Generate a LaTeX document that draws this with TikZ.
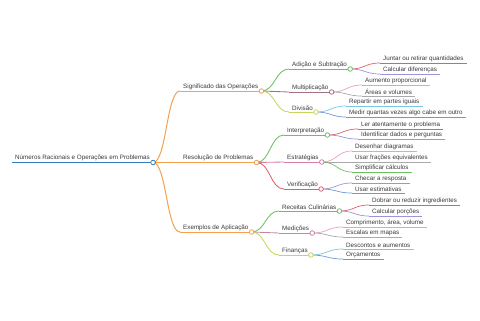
\documentclass[tikz,border=0pt]{standalone}
\usepackage{fontspec}
\setmainfont{Liberation Sans}
\usetikzlibrary{calc}
\definecolor{txt}{HTML}{3A3A3A}
\definecolor{cblue}{HTML}{2F7DBE}
\definecolor{corange}{HTML}{F4A04E}
\definecolor{cgreen}{HTML}{6CBF62}
\definecolor{cmauve}{HTML}{A4727F}
\definecolor{cyg}{HTML}{C9D45C}
\definecolor{cred}{HTML}{E0606A}
\definecolor{cpurple}{HTML}{A092D8}
\definecolor{cpink}{HTML}{EC9CCB}
\definecolor{cgray}{HTML}{AAAAAA}
\definecolor{ccyan}{HTML}{78C8E0}
\definecolor{cbl}{HTML}{6C9AD8}
\definecolor{cmag}{HTML}{D97AA8}
\definecolor{cmed}{HTML}{C486A4}
\tikzset{
  lbl/.style={anchor=south west, inner xsep=3pt, inner ysep=1.3pt, font=\fontsize{6.3}{7.3}\selectfont, text=txt},
  dot/.style={circle, draw, fill=white, inner sep=0pt, minimum size=4.6pt, line width=0.8pt},
  link/.style={to path={let \p1=(\tikztostart), \p2=(\tikztotarget) in
     .. controls ({(\x1+\x2)/2},\y1) and ({(\x1+\x2)/2},\y2) .. (\tikztotarget) \tikztonodes}},
  w0/.style={line width=1.1pt},
  w1/.style={line width=1.0pt},
  w2/.style={line width=0.85pt},
  w3/.style={line width=0.7pt},
}
\newcommand\mmnode[6]{% name, x, y, color, width, text
  \node[lbl] (#1) at (#2,#3) {#6};
  \draw[#4,#5] (#1.south west) -- (#1.south east);
  \coordinate (#1e) at (#1.south east);}
\newcommand\mmlink[4]{\draw[#3,#4] (#1e) to[link] (#2.south west);}
\newcommand\mmdot[2]{\node[dot,draw=#2] (#1d) at (#1e) {};}
\begin{document}
\begin{tikzpicture}[x=1bp,y=-1bp]
\useasboundingbox (0,0) rectangle (480,320);
% root
\mmnode{r}{12}{162.5}{cblue}{w0}{Números Racionais e Operações em Problemas}
% level 1
\mmnode{a}{180}{91}{corange}{w1}{Significado das Operações}
\mmnode{b}{180}{162.5}{corange}{w1}{Resolução de Problemas}
\mmnode{c}{180}{232}{corange}{w1}{Exemplos de Aplicação}
% level 2
\mmnode{aa}{289}{69}{cgreen}{w2}{Adição e Subtração}
\mmnode{ab}{289}{92}{cmauve}{w2}{Multiplicação}
\mmnode{ac}{289}{112}{cyg}{w2}{Divisão}
\mmnode{ba}{284}{135}{cgreen}{w2}{Interpretação}
\mmnode{bb}{284}{162}{cmag}{w2}{Estratégias}
\mmnode{bc}{284}{189}{cred}{w2}{Verificação}
\mmnode{ca}{279}{211}{cgreen}{w2}{Receitas Culinárias}
\mmnode{cb}{279}{233}{cmed}{w2}{Medições}
\mmnode{cc}{279}{255}{cyg}{w2}{Finanças}
% level 3
\mmnode{aaa}{380}{63}{cred}{w3}{Juntar ou retirar quantidades}
\mmnode{aab}{380}{74}{cpurple}{w3}{Calcular diferenças}
\mmnode{aba}{362}{85}{cpink}{w3}{Aumento proporcional}
\mmnode{abb}{362}{96}{cgray}{w3}{Áreas e volumes}
\mmnode{aca}{346}{106}{ccyan}{w3}{Repartir em partes iguais}
\mmnode{acb}{346}{117}{cbl}{w3}{Medir quantas vezes algo cabe em outro}
\mmnode{baa}{358}{129}{cred}{w3}{Ler atentamente o problema}
\mmnode{bab}{358}{139}{cpurple}{w3}{Identificar dados e perguntas}
\mmnode{bba}{352}{151}{cpink}{w3}{Desenhar diagramas}
\mmnode{bbb}{352}{162}{cgray}{w3}{Usar frações equivalentes}
\mmnode{bbc}{352}{172}{cgreen}{w3}{Simplificar cálculos}
\mmnode{bca}{352}{183}{cpurple}{w3}{Checar a resposta}
\mmnode{bcb}{352}{193}{cbl}{w3}{Usar estimativas}
\mmnode{caa}{369}{205}{cred}{w3}{Dobrar ou reduzir ingredientes}
\mmnode{cab}{369}{216}{cpurple}{w3}{Calcular porções}
\mmnode{cba}{343}{227}{cpink}{w3}{Comprimento, área, volume}
\mmnode{cbb}{343}{237}{cgray}{w3}{Escalas em mapas}
\mmnode{cca}{343}{249}{ccyan}{w3}{Descontos e aumentos}
\mmnode{ccb}{343}{259}{cbl}{w3}{Orçamentos}
% links
\mmlink{r}{a}{corange}{w1}
\mmlink{r}{b}{corange}{w1}
\mmlink{r}{c}{corange}{w1}
\mmlink{a}{aa}{cgreen}{w2}
\mmlink{a}{ab}{cmauve}{w2}
\mmlink{a}{ac}{cyg}{w2}
\mmlink{b}{ba}{cgreen}{w2}
\mmlink{b}{bb}{cmag}{w2}
\mmlink{b}{bc}{cred}{w2}
\mmlink{c}{ca}{cgreen}{w2}
\mmlink{c}{cb}{cmed}{w2}
\mmlink{c}{cc}{cyg}{w2}
\mmlink{aa}{aaa}{cred}{w3}
\mmlink{aa}{aab}{cpurple}{w3}
\mmlink{ab}{aba}{cpink}{w3}
\mmlink{ab}{abb}{cgray}{w3}
\mmlink{ac}{aca}{ccyan}{w3}
\mmlink{ac}{acb}{cbl}{w3}
\mmlink{ba}{baa}{cred}{w3}
\mmlink{ba}{bab}{cpurple}{w3}
\mmlink{bb}{bba}{cpink}{w3}
\mmlink{bb}{bbb}{cgray}{w3}
\mmlink{bb}{bbc}{cgreen}{w3}
\mmlink{bc}{bca}{cpurple}{w3}
\mmlink{bc}{bcb}{cbl}{w3}
\mmlink{ca}{caa}{cred}{w3}
\mmlink{ca}{cab}{cpurple}{w3}
\mmlink{cb}{cba}{cpink}{w3}
\mmlink{cb}{cbb}{cgray}{w3}
\mmlink{cc}{cca}{ccyan}{w3}
\mmlink{cc}{ccb}{cbl}{w3}
% dots
\mmdot{r}{cblue}
\mmdot{a}{corange}
\mmdot{b}{corange}
\mmdot{c}{corange}
\mmdot{aa}{cgreen}
\mmdot{ab}{cmauve}
\mmdot{ac}{cyg}
\mmdot{ba}{cgreen}
\mmdot{bb}{cmag}
\mmdot{bc}{cred}
\mmdot{ca}{cgreen}
\mmdot{cb}{cmed}
\mmdot{cc}{cyg}
\end{tikzpicture}
\end{document}
